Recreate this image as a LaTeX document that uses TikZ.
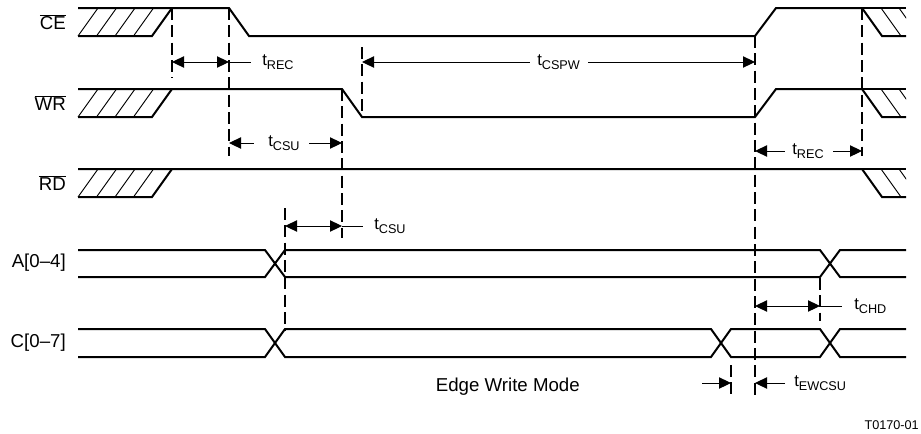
\documentclass[tikz,border=0pt]{standalone}
\usepackage{fontspec}
\setmainfont{Liberation Sans}
\usetikzlibrary{arrows.meta}
\newcommand{\tsub}[1]{{\fontsize{12.5}{14}\selectfont t}\raisebox{-2.8pt}{\fontsize{9.5}{11}\selectfont #1}}
\newcommand{\ovl}[1]{\ensuremath{\overline{\mbox{#1}}}}
\begin{document}
\begin{tikzpicture}[x=0.75pt,y=-0.75pt,
  sig/.style={line width=1.5pt,line join=miter,line cap=butt},
  hatchln/.style={line width=0.7pt},
  dashln/.style={line width=0.8pt,dash pattern=on 9pt off 4pt},
  dim/.style={line width=0.75pt},
  >={Triangle[length=9pt,width=8.5pt]},
  siglabel/.style={anchor=east,inner sep=0pt,font=\fontsize{14}{16}\selectfont},
  tlabel/.style={anchor=west,inner sep=0pt}]
\useasboundingbox (0,0) rectangle (921,433);

% ---------- signal labels
\node[siglabel] (lce) at (66,22) {\ovl{CE}};
\node[siglabel] (lwr) at (66,103) {\ovl{WR}};
\node[siglabel] (lrd) at (66,183) {\ovl{RD}};
\node[siglabel] (la) at (66,263) {A[0–4]};
\node[siglabel] (lc) at (66,343) {C[0–7]};

% ---------- left hatches
\foreach \hi/\lo in {8/36,89/117,169/197}{
  \foreach \b in {78,96.5,115,133.5}{
    \draw[hatchln] (\b,\lo) -- (\b+20,\hi);
  }
}
% ---------- right hatches
\begin{scope}
\clip (850,0) rectangle (906,433);
\foreach \hi/\lo in {8/36,89/117,169/197}{
  \foreach \b in {881,899}{
    \draw[hatchln] (\b,\hi) -- (\b+20,\lo);
  }
}
\end{scope}

% ---------- CE
\draw[sig] (78,36) -- (152,36) -- (172,8);
\draw[sig] (78,8) -- (229,8) -- (249,36) -- (755,36) -- (776,8) -- (862,8) -- (882,36) -- (906,36);
\draw[sig] (862,8) -- (906,8);
% ---------- WR
\draw[sig] (78,117) -- (152,117) -- (172,89);
\draw[sig] (78,89) -- (342,89) -- (362,117) -- (755,117) -- (776,89) -- (862,89) -- (882,117) -- (906,117);
\draw[sig] (862,89) -- (906,89);
% ---------- RD
\draw[sig] (78,197) -- (152,197) -- (172,169);
\draw[sig] (78,169) -- (862,169) -- (882,197) -- (906,197);
\draw[sig] (862,169) -- (906,169);
% ---------- A
\draw[sig] (78,250) -- (265,250) -- (285,277) -- (820,277) -- (840,250) -- (906,250);
\draw[sig] (78,277) -- (265,277) -- (285,250) -- (820,250) -- (840,277) -- (906,277);
% ---------- C
\draw[sig] (78,329) -- (265,329) -- (285,357) -- (711,357) -- (731,329) -- (820,329) -- (840,357) -- (906,357);
\draw[sig] (78,357) -- (265,357) -- (285,329) -- (711,329) -- (731,357) -- (820,357) -- (840,329) -- (906,329);

% ---------- dashed reference lines
\draw[dashln] (172,8) -- (172,78);
\draw[dashln] (229,8) -- (229,156);
\draw[dashln] (342,89) -- (342,238);
\draw[dashln] (362,47) -- (362,117);
\draw[dashln] (285,208) -- (285,331);
\draw[dashln] (755,36) -- (755,398);
\draw[dashln] (862,8) -- (862,156);
\draw[dashln] (820,278) -- (820,321);
\draw[dashln] (731,365) -- (731,398);

% ---------- t_REC (top)
\coordinate (r1a) at (172,62); \coordinate (r1b) at (229,62); \coordinate (r1c) at (251,62);
\draw[dim,<->] (r1a) -- (r1b);
\draw[dim] (r1b) -- (r1c);
\node[tlabel] (trec1) at (262,62) {\tsub{REC}};

% ---------- t_CSPW
\coordinate (pa) at (362,62); \coordinate (pb) at (530,62);
\coordinate (pc) at (588,62); \coordinate (pd) at (755,62);
\draw[dim,<-] (pa) -- (pb);
\node[tlabel] (tcspw) at (537,62) {\tsub{CSPW}};
\draw[dim,->] (pc) -- (pd);

% ---------- t_CSU (WR)
\coordinate (s1a) at (229,143); \coordinate (s1b) at (254,143);
\coordinate (s1c) at (309,143); \coordinate (s1d) at (342,143);
\draw[dim,<-] (s1a) -- (s1b);
\node[tlabel] (tcsu1) at (268,143) {\tsub{CSU}};
\draw[dim,->] (s1c) -- (s1d);

% ---------- t_CSU (A)
\coordinate (s2a) at (285,226); \coordinate (s2b) at (342,226); \coordinate (s2c) at (363,226);
\draw[dim,<->] (s2a) -- (s2b);
\draw[dim] (s2b) -- (s2c);
\node[tlabel] (tcsu2) at (374,226) {\tsub{CSU}};

% ---------- t_REC (RD)
\coordinate (r2a) at (755,151); \coordinate (r2b) at (785,151);
\coordinate (r2c) at (833,151); \coordinate (r2d) at (862,151);
\draw[dim,<-] (r2a) -- (r2b);
\node[tlabel] (trec2) at (792,151) {\tsub{REC}};
\draw[dim,->] (r2c) -- (r2d);

% ---------- t_CHD
\coordinate (ha) at (755,306); \coordinate (hb) at (820,306); \coordinate (hc) at (842,306);
\draw[dim,<->] (ha) -- (hb);
\draw[dim] (hb) -- (hc);
\node[tlabel] (tchd) at (854,306) {\tsub{CHD}};

% ---------- t_EWCSU
\coordinate (ea) at (702,383); \coordinate (eb) at (731,383);
\coordinate (ec) at (785,383); \coordinate (ed) at (755,383);
\draw[dim,->] (ea) -- (eb);
\draw[dim,->] (ec) -- (ed);
\node[tlabel] (tewcsu) at (794,383) {\tsub{EWCSU}};

% ---------- captions
\node[anchor=base east,inner sep=0pt,font=\fontsize{14}{16}\selectfont] (mode) at (580,391) {Edge Write Mode};
\node[anchor=east,inner sep=0pt,font=\fontsize{9.5}{11}\selectfont] (tag) at (919,425) {T0170-01};
\end{tikzpicture}
\end{document}
